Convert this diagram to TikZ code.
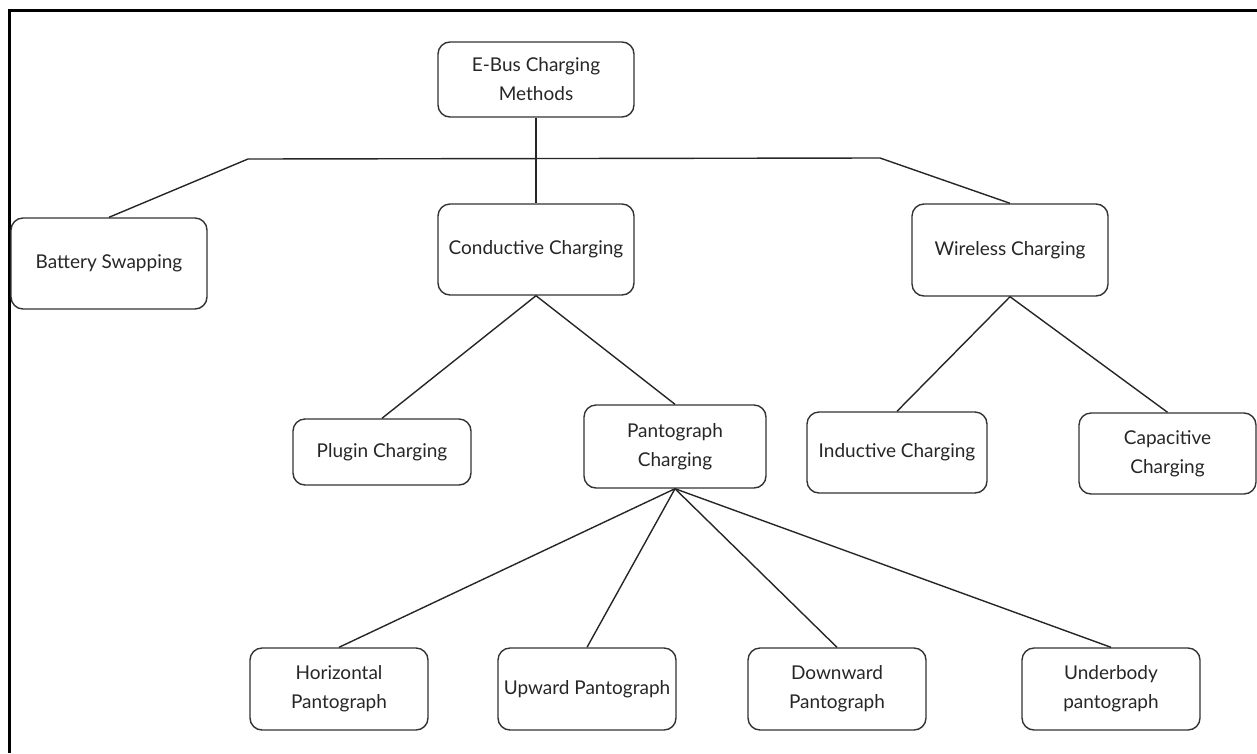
\documentclass[tikz,border=0pt]{standalone}
\usepackage{fontspec}
\setmainfont{Lato}
\begin{document}
\begin{tikzpicture}[x=1pt,y=-1pt,
  box/.style={draw=black!80, line width=1.4pt, rounded corners=12pt, align=center,
    font=\fontsize{19}{29}\selectfont, text=black!85, inner sep=0pt},
  link/.style={draw=black!85, line width=1.4pt}]
\useasboundingbox (0,0) rectangle (1257,753);
% outer frame (top and left edges)
\draw[line width=3pt] (9,753) -- (9,10) -- (1257,10);

% level 0
\node[box, minimum width=196pt, minimum height=75pt] (root) at (536,79.5) {E-Bus Charging\\Methods};
% level 1
\node[box, minimum width=196pt, minimum height=91pt] (batt) at (109,263.5) {Battery Swapping};
\node[box, minimum width=196pt, minimum height=91pt] (cond) at (536,249.5) {Conductive Charging};
\node[box, minimum width=196pt, minimum height=92pt] (wire) at (1010,250) {Wireless Charging};
% level 2
\node[box, minimum width=178pt, minimum height=66pt] (plug) at (382,452) {Plugin Charging};
\node[box, minimum width=182pt, minimum height=83pt] (pant) at (675,446.5) {Pantograph\\Charging};
\node[box, minimum width=180pt, minimum height=81pt] (ind) at (897,452.5) {Inductive Charging};
\node[box, minimum width=177pt, minimum height=81pt] (cap) at (1167.5,453.5) {Capacitive\\Charging};
% level 3
\node[box, minimum width=178pt, minimum height=82pt] (hor) at (339,689) {Horizontal\\Pantograph};
\node[box, minimum width=178pt, minimum height=82pt] (up) at (587,689) {Upward Pantograph};
\node[box, minimum width=178pt, minimum height=82pt] (down) at (837,689) {Downward\\Pantograph};
\node[box, minimum width=178pt, minimum height=82pt] (under) at (1111,689) {Underbody\\pantograph};

% bus line under the root
\coordinate (busL) at (248,159);
\coordinate (busR) at (880,158);
\draw[link] (busL) -- (busR);
\draw[link] (batt.north) -- (busL);
\draw[link] (busR) -- (wire.north);
\draw[link] (root.south) -- (cond.north);

\draw[link] (cond.south) -- (plug.north);
\draw[link] (cond.south) -- (pant.north);
\draw[link] (wire.south) -- (ind.north);
\draw[link] (wire.south) -- (cap.north);

\foreach \t in {hor,up,down,under}
  \draw[link] (pant.south) -- (\t.north);
\end{tikzpicture}
\end{document}
